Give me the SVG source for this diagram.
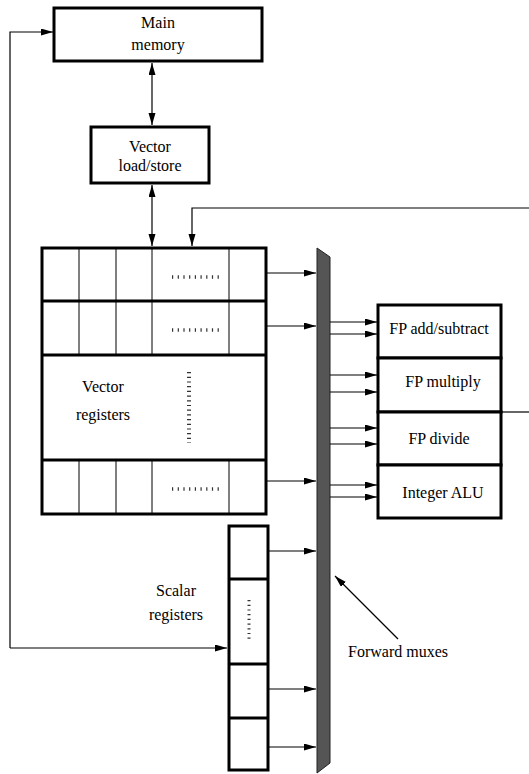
<svg xmlns="http://www.w3.org/2000/svg" width="529" height="774" viewBox="0 0 529 774">
<style>
.box{fill:#fff;stroke:#000;stroke-width:3}
.thin{stroke:#000;stroke-width:1;fill:none}
.conn{stroke:#000;stroke-width:1.2;fill:none}
.arr{marker-end:url(#ah)}
.dbl{marker-end:url(#ah);marker-start:url(#ah)}
.t{font-family:"Liberation Serif","Times New Roman",serif;font-size:16px;fill:#000;text-anchor:middle}
.dh{stroke:#333;stroke-width:3.5;stroke-dasharray:1.2 4.5;fill:none}
.dv{stroke:#333;stroke-width:4;stroke-dasharray:1.2 3.5;fill:none}
</style>
<defs>
<marker id="ah" markerUnits="userSpaceOnUse" markerWidth="13" markerHeight="8" refX="12" refY="3.5" orient="auto-start-reverse">
<path d="M0,0 L12,3.5 L0,7 z" fill="#000"/>
</marker>
</defs>

<g id="main-memory">
<rect class="box" x="54" y="8" width="208" height="53"/>
<text class="t" x="158" y="28">Main</text>
<text class="t" x="158" y="50">memory</text>
</g>

<g id="vector-load-store">
<rect class="box" x="91" y="127" width="118" height="56"/>
<text class="t" x="150" y="152">Vector</text>
<text class="t" x="150" y="171">load/store</text>
</g>

<g id="vector-registers">
<rect class="box" x="42" y="248" width="224" height="266"/>
<line class="thin" x1="42" y1="301" x2="266" y2="301" style="stroke-width:3"/>
<line class="thin" x1="42" y1="355" x2="266" y2="355" style="stroke-width:3"/>
<line class="thin" x1="42" y1="460" x2="266" y2="460" style="stroke-width:3"/>
<g class="thin">
<line x1="79" y1="248" x2="79" y2="355"/>
<line x1="116" y1="248" x2="116" y2="355"/>
<line x1="152" y1="248" x2="152" y2="355"/>
<line x1="229" y1="248" x2="229" y2="355"/>
<line x1="79" y1="460" x2="79" y2="514"/>
<line x1="116" y1="460" x2="116" y2="514"/>
<line x1="152" y1="460" x2="152" y2="514"/>
<line x1="229" y1="460" x2="229" y2="514"/>
</g>
<line class="dh" x1="172" y1="277" x2="219" y2="277"/>
<line class="dh" x1="172" y1="330" x2="219" y2="330"/>
<line class="dh" x1="172" y1="489" x2="219" y2="489"/>
<line class="dv" x1="189" y1="372" x2="189" y2="443"/>
<text class="t" x="103" y="392">Vector</text>
<text class="t" x="103" y="420">registers</text>
</g>

<g id="forward-muxes">
<polygon points="317,248 330,257 330,763 317,773" fill="#555" stroke="#222" stroke-width="1"/>
<text class="t" x="398" y="657">Forward muxes</text>
</g>

<g id="fp-add-subtract">
<rect class="box" x="378" y="305" width="123" height="53"/>
<text class="t" x="439" y="334">FP add/subtract</text>
</g>
<g id="fp-multiply">
<rect class="box" x="378" y="358" width="123" height="54"/>
<text class="t" x="443" y="387">FP multiply</text>
</g>
<g id="fp-divide">
<rect class="box" x="378" y="412" width="123" height="53"/>
<text class="t" x="439" y="444">FP divide</text>
</g>
<g id="integer-alu">
<rect class="box" x="378" y="465" width="123" height="53"/>
<text class="t" x="443" y="498">Integer ALU</text>
</g>

<g id="scalar-registers">
<rect class="box" x="229" y="526" width="39" height="244"/>
<line class="thin" x1="229" y1="579" x2="268" y2="579" style="stroke-width:3"/>
<line class="thin" x1="229" y1="664" x2="268" y2="664" style="stroke-width:3"/>
<line class="thin" x1="229" y1="718" x2="268" y2="718" style="stroke-width:3"/>
<line class="dv" x1="249" y1="600" x2="249" y2="641" style="stroke-width:3"/>
<text class="t" x="176" y="596">Scalar</text>
<text class="t" x="176" y="620">registers</text>
</g>

<g id="connectors">
<path class="conn arr" d="M10,648 L10,32 L53,32"/>
<path class="conn arr" d="M10,648 L227,648"/>
<line class="conn dbl" x1="152" y1="63" x2="152" y2="125"/>
<line class="conn dbl" x1="152" y1="185" x2="152" y2="246"/>
<path class="conn arr" d="M529,208 L192,208 L192,246"/>
<line class="conn arr" x1="267" y1="273" x2="316" y2="273"/>
<line class="conn arr" x1="267" y1="326" x2="316" y2="326"/>
<line class="conn arr" x1="267" y1="481" x2="316" y2="481"/>
<line class="conn arr" x1="269" y1="551" x2="316" y2="551"/>
<line class="conn arr" x1="269" y1="689" x2="316" y2="689"/>
<line class="conn arr" x1="269" y1="747" x2="316" y2="747"/>
<line class="conn arr" x1="330" y1="322" x2="377" y2="322"/>
<line class="conn arr" x1="330" y1="334" x2="377" y2="334"/>
<line class="conn arr" x1="330" y1="375" x2="377" y2="375"/>
<line class="conn arr" x1="330" y1="392" x2="377" y2="392"/>
<line class="conn arr" x1="330" y1="428" x2="377" y2="428"/>
<line class="conn arr" x1="330" y1="444" x2="377" y2="444"/>
<line class="conn arr" x1="330" y1="485" x2="377" y2="485"/>
<line class="conn arr" x1="330" y1="497" x2="377" y2="497"/>
<line class="conn" x1="502" y1="412" x2="529" y2="412"/>
<line class="conn arr" x1="398" y1="639" x2="335" y2="576"/>
</g>
</svg>
